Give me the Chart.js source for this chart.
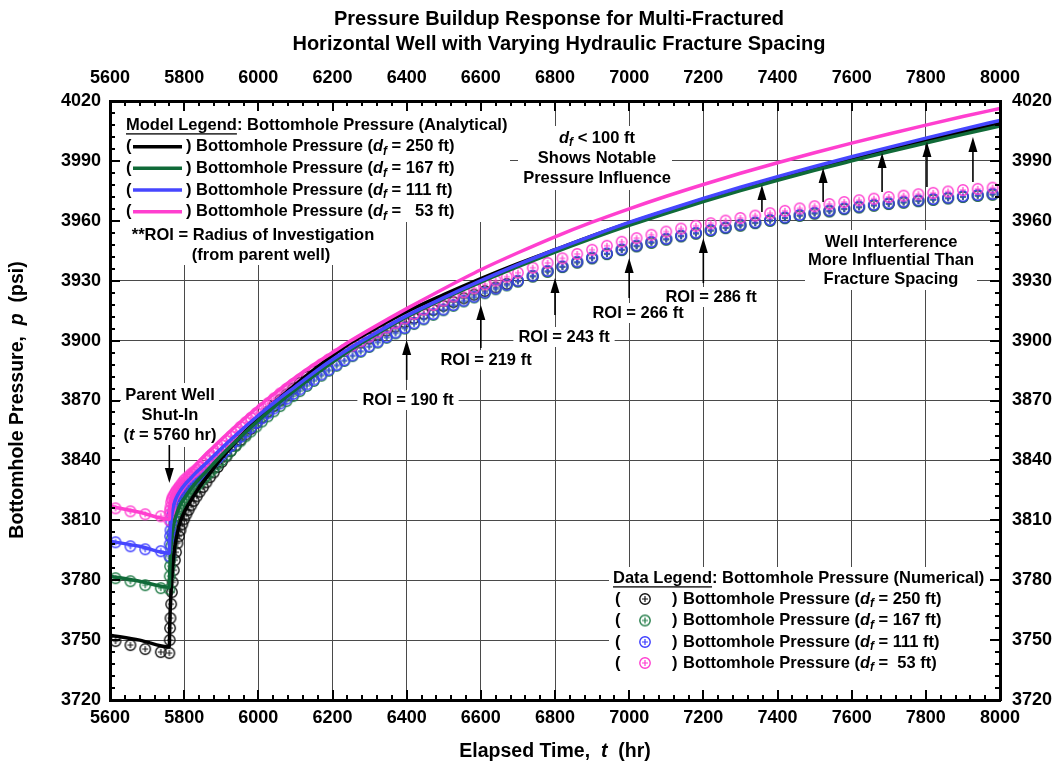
<!DOCTYPE html>
<html><head><meta charset="utf-8">
<script src="https://cdn.jsdelivr.net/npm/chart.js@4.4.0/dist/chart.umd.min.js"></script>
<style>html,body{margin:0;padding:0;background:#fff;}canvas{display:block;}</style>
</head><body>
<canvas id="c" width="1063" height="772"></canvas>
<script>
// ---------------- DATA ----------------
const xTicks = [5600,5800,6000,6200,6400,6600,6800,7000,7200,7400,7600,7800,8000];
const yTicks = [3720,3750,3780,3810,3840,3870,3900,3930,3960,3990,4020];

// Analytical model (lines)
const tModel = [5600,5680,5760,5761,5762,5764,5766,5770,5775,5782,5790,5800,5815,5830,5850,5875,5900,5950,6000,6050,6100,6150,6200,6250,6300,6400,6500,6600,6700,6800,6900,7000,7100,7200,7300,7400,7500,7600,7700,7800,7900,8000];
const pModel250 = [3752.5,3750,3746.5,3756,3763,3772,3779,3789,3797,3804,3809.5,3814,3819,3823.5,3829,3835,3841,3851.5,3861,3870,3878,3885.5,3892.5,3899,3904.5,3914.5,3923,3931,3938.5,3945.5,3952.5,3959,3965,3970.8,3976.3,3981.5,3986.5,3991.3,3995.9,4000.3,4004.6,4008.8];
const pModel167 = [3782,3779.5,3776.5,3784,3789,3796,3800.5,3806,3810.5,3814.5,3818,3821,3825,3828.5,3832.5,3837.5,3842.5,3851.5,3860,3868,3875.5,3882.5,3889.2,3895.5,3901.2,3911.8,3921,3929.3,3937,3944.3,3951.2,3957.7,3963.8,3969.6,3975.1,3980.3,3985.3,3990,3994.6,3999,4003.3,4007.5];
const pModel111 = [3799.5,3797,3793.5,3800,3804,3809,3812,3816,3819.5,3822.5,3825,3827.5,3830.5,3833.5,3837,3841.5,3846,3854.5,3862.5,3870,3877,3884,3890.5,3896.5,3902,3912.5,3921.5,3930,3938,3945.5,3952.5,3959.2,3965.3,3971.2,3976.8,3982.1,3987.2,3992.1,3996.8,4001.4,4005.9,4010.3];
const pModel53 = [3817,3814,3810.5,3815,3817.5,3820,3821.5,3823.5,3825.5,3827.5,3829.5,3831.5,3834.5,3837.5,3841.5,3846,3850.5,3859,3867,3874.5,3881.5,3888,3894,3900,3905.5,3916,3926,3935.5,3944,3952,3959.3,3966,3972.3,3978.2,3983.8,3989.1,3994.1,3998.9,4003.5,4007.9,4012.2,4016.3];

// Numerical simulation (points)
const tData = [5615,5655,5695,5737,
5760,5761,5762,5763,5765,5767,5769,5772,5775,5778,5782,5786,5790,5795,5800,5806,5812,5819,5826,5834,5842,5851,5860,5870,5880,5891,5902,5914,5926,5939,5952,5966,5980,5995,6010,6026,6042,6059,6076,6094,6112,6131,6150,6170,6190,6211,6232,6254,6276,6299,6322,6346,6370,6395,6420,6446,6472,6499,6526,6554,6582,6611,6640,6670,6700,6740,6780,6820,6860,6900,6940,6980,7020,7060,7100,7140,7180,7220,7260,7300,7340,7380,7420,7460,7500,7540,7580,7620,7660,7700,7740,7780,7820,7860,7900,7940,7980];
const pData250 = [3749.5,3747.5,3745.5,3744,
3743.5,3750,3756,3761,3768,3774,3779,3785,3790,3794,3798.5,3802,3805,3808,3810.5,3813,3815.2,3817.5,3819.7,3822,3824.3,3826.6,3829,3831.6,3834,3836.7,3839.3,3842,3844.7,3847.5,3850.2,3853,3855.8,3858.7,3861.5,3864.4,3867.3,3870.2,3873,3876,3878.9,3881.8,3884.6,3887.4,3890.1,3892.8,3895,3897.2,3899,3901,3903,3905,3907,3909.2,3911.3,3913.4,3915.4,3917.4,3919.3,3921.2,3923,3924.8,3926.6,3928.4,3929.7,3932.2,3934.6,3936.9,3939.2,3941.3,3943.4,3945.4,3947.3,3949.1,3950.7,3952.3,3953.7,3955.1,3956.4,3957.7,3958.9,3960.1,3961.4,3962.6,3963.7,3964.8,3965.9,3966.8,3967.7,3968.5,3969.2,3969.9,3970.6,3971.3,3972,3972.6,3973.2];
const pData167 = [3781,3779.5,3777.5,3776,
3775.5,3782,3787,3791,3797,3801,3804,3807.5,3810,3812,3814,3815.7,3817.2,3818.8,3820.2,3821.7,3823,3824.4,3825.8,3827.3,3828.8,3830.5,3832.2,3834.1,3836,3838.1,3840.2,3842.5,3844.8,3847.2,3849.6,3852.1,3854.5,3857,3859.5,3862.1,3864.6,3867.2,3869.7,3872.2,3874.7,3877.3,3879.8,3882.4,3884.9,3887.4,3889.8,3892.2,3894.4,3896.8,3899,3901.4,3903.6,3906,3908.3,3910.6,3912.9,3915.2,3917.4,3919.6,3921.6,3923.7,3925.7,3927.6,3929.6,3932.1,3934.5,3936.8,3939.1,3941.2,3943.3,3945.3,3947.2,3949,3950.6,3952.2,3953.6,3955,3956.3,3957.6,3958.8,3960,3961.3,3962.5,3963.6,3964.7,3965.8,3966.7,3967.6,3968.4,3969.1,3969.8,3970.5,3971.2,3971.9,3972.5,3973.1];
const pData111 = [3799,3797,3795.5,3794.5,
3792,3798,3802,3805,3809,3812,3814,3816,3818,3819.5,3821,3822.3,3823.5,3824.8,3826,3827,3828,3829.2,3830.3,3831.5,3832.8,3834.2,3835.7,3837.4,3839.2,3841.1,3843,3845.2,3847.3,3849.6,3851.8,3854.1,3856.4,3858.8,3861.1,3863.6,3866,3868.5,3870.9,3873.3,3875.6,3878.1,3880.5,3883,3885.4,3887.9,3890.2,3892.6,3894.8,3897.2,3899.4,3901.8,3904,3906.4,3908.7,3911,3913.3,3915.6,3917.8,3920,3922,3924.1,3926.1,3928,3930,3932.5,3934.9,3937.2,3939.5,3941.6,3943.7,3945.7,3947.6,3949.4,3951,3952.6,3954,3955.4,3956.7,3958,3959.2,3960.4,3961.7,3962.9,3964,3965.1,3966.2,3967.1,3968,3968.8,3969.5,3970.2,3970.9,3971.6,3972.3,3972.9,3973.5];
const pData53 = [3816,3814.5,3813,3812,
3810,3813,3815,3816.5,3819,3820.5,3821.5,3822.5,3823.5,3824.5,3825.5,3826.5,3827.5,3828.8,3830,3831,3832,3833.3,3834.3,3835.5,3836.8,3838.5,3840,3842,3843.8,3845.8,3847.5,3849.8,3852,3854.3,3856.8,3859,3861.3,3863.7,3866,3868.5,3871,3873.5,3875.8,3878.2,3880.5,3883,3885.5,3888,3890.5,3893,3895.3,3897.5,3899.7,3902,3904.2,3906.5,3908.7,3911,3913.3,3915.5,3917.8,3920,3922.1,3924.2,3926.2,3928.2,3930.1,3932,3934,3936.5,3938.9,3941.2,3943.4,3945.5,3947.5,3949.5,3951.3,3953,3954.6,3956.1,3957.5,3958.8,3960.1,3961.4,3962.6,3963.8,3965,3966.2,3967.3,3968.4,3969.4,3970.3,3971.1,3971.9,3972.6,3973.3,3974,3974.7,3975.4,3976,3976.6];

const spacingLabels = ['250','167','111','53'];

// ---------------- STYLE ----------------
const FAM = "'Liberation Sans', Arial, Helvetica, sans-serif";
const lineColors = ['#000000','#106a38','#4646ff','#ff3fcf'];
const pointColors = ['#111111','#1f7a45','#3c3cff','#ff3dd0'];

function markerImg(color){
  const c=document.createElement('canvas'); c.width=14; c.height=14;
  const g=c.getContext('2d'); g.strokeStyle=color; g.lineWidth=1.4;
  g.beginPath(); g.arc(7,7,5.2,0,Math.PI*2); g.stroke();
  g.lineWidth=1.2;
  g.beginPath(); g.moveTo(4,7); g.lineTo(10,7); g.moveTo(7,4); g.lineTo(7,10); g.stroke();
  return c;
}
const markers = pointColors.map(markerImg);

const toXY = (ts, ps) => ts.map((t,i)=>({x:t,y:ps[i]}));
const modelSeries = [pModel250,pModel167,pModel111,pModel53];
const dataSeries = [pData250,pData167,pData111,pData53];

const datasets = [];
[3,2,1,0].forEach((k,idx)=>{
  datasets.push({label:'Model '+spacingLabels[k], data:toXY(tModel, modelSeries[k]), showLine:true,
    borderColor:lineColors[k], borderWidth:3.5, pointRadius:0, cubicInterpolationMode:'monotone', order:1+idx});
});
[3,2,1,0].forEach((k,idx)=>{
  datasets.push({label:'Data '+spacingLabels[k], data:toXY(tData, dataSeries[k]), showLine:false,
    pointStyle:markers[k], pointRadius:6, order:10+idx});
});

// ---------------- ANNOTATIONS ----------------
const FS = 16.5;
const whiteBoxes = [
  [112,103,510,222],[128,222,385,265],[609,567,990,698],[121,383,219,447],[518,126,672,190],[805,230,977,290]
];
const roiLabels = [
  {x:408,y:400,text:'ROI = 190 ft'},{x:486,y:360,text:'ROI = 219 ft'},{x:564,y:337,text:'ROI = 243 ft'},
  {x:638,y:313,text:'ROI = 266 ft'},{x:711,y:297,text:'ROI = 286 ft'}
];
// arrows in data coordinates [t, pBase, pTip]
const arrows = [
  [5760,3847.7,3828.7],
  [6400,3880.3,3900.3],[6600,3896.3,3917.8],[6800,3912.8,3931.4],[7000,3921.3,3941.4],[7200,3928.8,3951.4],
  [7358,3964.4,3977.9],[7523,3969.4,3986.4],[7682,3974.4,3994],[7803,3976.9,3999.5],[7927,3979.4,4002]
];

function fontFor(f,size){
  return (f.includes('i')?'italic ':'')+'bold '+(f.includes('s')?size*0.72:size)+'px '+FAM;
}
function rich(ctx, segs, x, y, align, size){
  let w=0; const ws=segs.map(s=>{ctx.font=fontFor(s[1]||'',size); const m=ctx.measureText(s[0]).width; w+=m; return m;});
  let cx = align==='center'? x-w/2 : align==='right'? x-w : x;
  ctx.textAlign='left'; ctx.textBaseline='middle';
  segs.forEach((s,k)=>{ const f=s[1]||''; ctx.font=fontFor(f,size);
    ctx.fillText(s[0], cx, y+(f.includes('s')?size*0.3:0));
    if(f.includes('u')) ctx.fillRect(cx, y+size*0.5, ws[k], 1.3);
    cx+=ws[k]; });
  return w;
}
function arrow(ctx,x,y0,y1){
  const dir = y1<y0 ? -1 : 1; const hl=15, hw=4.5;
  ctx.beginPath(); ctx.moveTo(x,y0); ctx.lineTo(x,y1-dir*hl); ctx.lineWidth=1.6; ctx.stroke();
  ctx.beginPath(); ctx.moveTo(x,y1); ctx.lineTo(x-hw,y1-dir*hl); ctx.lineTo(x+hw,y1-dir*hl); ctx.closePath(); ctx.fill();
}
const dfSegs = (v)=>[['Bottomhole Pressure ('],['d','i'],['f','is'],[' = '+v+' ft)']];

const annot = {
  id:'annot',
  beforeDatasetsDraw(chart){
    const ctx=chart.ctx; ctx.save(); ctx.fillStyle='#fff';
    whiteBoxes.forEach(b=>ctx.fillRect(b[0],b[1],b[2]-b[0],b[3]-b[1]));
    ctx.font='bold '+FS+'px '+FAM;
    roiLabels.forEach(l=>{const w=ctx.measureText(l.text).width; ctx.fillRect(l.x-w/2-5,l.y-10,w+10,20);});
    ctx.restore();
  },
  afterDraw(chart){
    const ctx=chart.ctx, xs=chart.scales.x, ys=chart.scales.y, a=chart.chartArea;
    ctx.save(); ctx.fillStyle='#000'; ctx.strokeStyle='#000';
    ctx.lineWidth=2; ctx.beginPath();
    for(let v=5600; v<=8000; v+=40){ const px=Math.round(xs.getPixelForValue(v)); const L=(v%200===0)?10:5;
      ctx.moveTo(px,a.bottom); ctx.lineTo(px,a.bottom-L); ctx.moveTo(px,a.top); ctx.lineTo(px,a.top+L); }
    for(let v=3720; v<=4020; v+=6){ const py=Math.round(ys.getPixelForValue(v)); const L=((v-3720)%30===0)?10:5;
      ctx.moveTo(a.left,py); ctx.lineTo(a.left+L,py); ctx.moveTo(a.right,py); ctx.lineTo(a.right-L,py); }
    ctx.stroke();
    ctx.textAlign='center'; ctx.textBaseline='middle'; ctx.font='bold 20px '+FAM;
    ctx.fillText('Pressure Buildup Response for Multi-Fractured',559,19);
    ctx.fillText('Horizontal Well with Varying Hydraulic Fracture Spacing',559,44);
    rich(ctx,[['Elapsed Time,  '],['t','i'],['  (hr)']],555,752,'center',19.5);
    ctx.save(); ctx.translate(18,400); ctx.rotate(-Math.PI/2);
    rich(ctx,[['Bottomhole Pressure,  '],['p','i'],['  (psi)']],0,0,'center',19.5);
    ctx.restore();
    rich(ctx,[['Model Legend','u'],[': Bottomhole Pressure (Analytical)']],126,125,'left',FS);
    const mRows=[146.7,168.3,190,211.7];
    const mVals=['250','167','111','  53'];
    [0,1,2,3].forEach(k=>{ const y=mRows[k];
      rich(ctx,[['(']],126,y,'left',FS);
      ctx.strokeStyle=lineColors[k]; ctx.lineWidth=3.5; ctx.beginPath(); ctx.moveTo(133,y); ctx.lineTo(182,y); ctx.stroke();
      rich(ctx,[[')']],186,y,'left',FS);
      rich(ctx,dfSegs(mVals[k]),196,y,'left',FS);
    });
    ctx.strokeStyle='#000';
    rich(ctx,[['**ROI = Radius of Investigation']],253,235,'center',FS);
    rich(ctx,[['(from parent well)']],261,255,'center',FS);
    rich(ctx,[['Data Legend','u'],[': Bottomhole Pressure (Numerical)']],613,578,'left',FS);
    const dRows=[599,620.5,642,663];
    const dVals=['250','167','111',' 53'];
    [0,1,2,3].forEach(k=>{ const y=dRows[k];
      rich(ctx,[['(']],615,y,'left',FS);
      ctx.drawImage(markers[k],645-7,y-7);
      rich(ctx,[[')']],672,y,'left',FS);
      rich(ctx,dfSegs(dVals[k]),683,y,'left',FS);
    });
    rich(ctx,[['Parent Well']],170,395,'center',FS);
    rich(ctx,[['Shut-In']],170,415,'center',FS);
    rich(ctx,[['('],['t','i'],[' = 5760 hr)']],170,435,'center',FS);
    roiLabels.forEach(l=>rich(ctx,[[l.text]],l.x,l.y,'center',FS));
    rich(ctx,[['d','i'],['f','is'],[' < 100 ft']],597,138,'center',FS);
    rich(ctx,[['Shows Notable']],597,158.5,'center',FS);
    rich(ctx,[['Pressure Influence']],597,178.5,'center',FS);
    rich(ctx,[['Well Interference']],891,242,'center',FS);
    rich(ctx,[['More Influential Than']],891,260.5,'center',FS);
    rich(ctx,[['Fracture Spacing']],891,279,'center',FS);
    arrows.forEach(r=>arrow(ctx, xs.getPixelForValue(r[0]), ys.getPixelForValue(r[1]), ys.getPixelForValue(r[2])));
    ctx.restore();
  }
};

const tickFont = {family:FAM, size:18, weight:'bold'};
const plain = v => String(v);
const gridOpts = {color:'#4a4a4a', lineWidth:1, drawTicks:false};
const borderOpts = {display:true, color:'#000', width:3, z:1};

new Chart(document.getElementById('c'), {
  type:'scatter',
  data:{datasets},
  options:{
    responsive:false, animation:false, devicePixelRatio:1, events:[],
    layout:{padding:0},
    plugins:{legend:{display:false}, tooltip:{enabled:false}, title:{display:false}},
    scales:{
      x:{type:'linear', position:'bottom', min:5600, max:8000,
         afterBuildTicks:s=>{s.ticks=xTicks.map(v=>({value:v}));},
         ticks:{font:tickFont, color:'#000', padding:7, maxRotation:0, autoSkip:false, callback:plain},
         grid:gridOpts, border:borderOpts, afterFit:s=>{s.height=72;}},
      x2:{type:'linear', position:'top', min:5600, max:8000,
         afterBuildTicks:s=>{s.ticks=xTicks.map(v=>({value:v}));},
         ticks:{font:tickFont, color:'#000', padding:12, maxRotation:0, autoSkip:false, callback:plain},
         grid:{display:false, drawTicks:false}, border:borderOpts, afterFit:s=>{s.height=101;}},
      y:{type:'linear', position:'left', min:3720, max:4020,
         afterBuildTicks:s=>{s.ticks=yTicks.map(v=>({value:v}));},
         ticks:{font:tickFont, color:'#000', padding:9, autoSkip:false, callback:plain},
         grid:gridOpts, border:borderOpts, afterFit:s=>{s.width=110;}},
      y2:{type:'linear', position:'right', min:3720, max:4020,
         afterBuildTicks:s=>{s.ticks=yTicks.map(v=>({value:v}));},
         ticks:{font:tickFont, color:'#000', padding:12, autoSkip:false, callback:plain},
         grid:{display:false, drawTicks:false}, border:borderOpts, afterFit:s=>{s.width=63;}}
    }
  },
  plugins:[annot]
});
</script>
</body></html>
